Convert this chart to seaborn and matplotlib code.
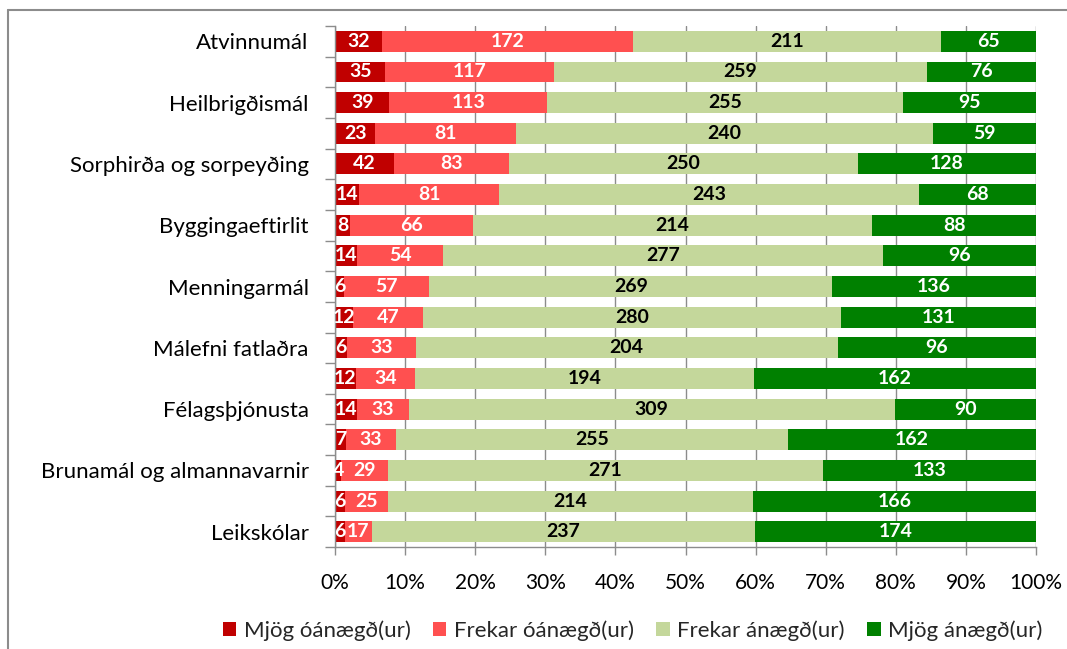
import matplotlib
matplotlib.use("Agg")
import matplotlib.pyplot as plt
import seaborn as sns
import pandas as pd
import numpy as np
from matplotlib.lines import Line2D
from matplotlib.patches import Patch

categories = [
    "Atvinnumál", "Skipulagsmál", "Heilbrigðismál", "Umhverfismál",
    "Sorphirða og sorpeyðing", "Samgöngumál", "Byggingaeftirlit", "Íþróttamál",
    "Menningarmál", "Grunnskólar", "Málefni fatlaðra", "Öldrunarþjónusta",
    "Félagsþjónusta", "Barnavernd", "Brunamál og almannavarnir", "Vatnsveita",
    "Leikskólar",
]
shown_labels = [c if i % 2 == 0 else "" for i, c in enumerate(categories)]

mjog_oanaegd = [32, 35, 39, 23, 42, 14, 8, 14, 6, 12, 6, 12, 14, 7, 4, 6, 6]
frekar_oanaegd = [172, 117, 113, 81, 83, 81, 66, 54, 57, 47, 33, 34, 33, 33, 29, 25, 17]
frekar_anaegd = [211, 259, 255, 240, 250, 243, 214, 277, 269, 280, 204, 194, 309, 255, 271, 214, 237]
mjog_anaegd = [65, 76, 95, 59, 128, 68, 88, 96, 136, 131, 96, 162, 90, 162, 133, 166, 174]

series_names = ["Mjög óánægð(ur)", "Frekar óánægð(ur)", "Frekar ánægð(ur)", "Mjög ánægð(ur)"]
colors = ["#C00000", "#FF5050", "#C4D79B", "#008000"]
text_colors = ["white", "white", "black", "white"]
tick_labels = [f"{v}%" for v in range(0, 101, 10)]

sns.set_theme(style="white")
plt.rcParams["font.family"] = ["Lato", "DejaVu Sans"]

df = pd.DataFrame({
    "cat": categories,
    series_names[0]: mjog_oanaegd,
    series_names[1]: frekar_oanaegd,
    series_names[2]: frekar_anaegd,
    series_names[3]: mjog_anaegd,
})
vals = df[series_names].to_numpy(dtype=float)
totals = vals.sum(axis=1, keepdims=True)
pct = vals / totals * 100
cum = np.cumsum(pct, axis=1)
for j, name in enumerate(series_names):
    df["cum_" + name] = cum[:, j]

fig = plt.figure(figsize=(10.67, 6.49), dpi=100)
ax = fig.add_axes([0.314, 0.157, 0.657, 0.803])

ax.set_axisbelow(True)
ax.xaxis.grid(True, color="#8C8C8C", linewidth=1.0)
ax.yaxis.grid(False)

for j in range(3, -1, -1):
    sns.barplot(data=df, y="cat", x="cum_" + series_names[j], color=colors[j],
                orient="h", width=0.68, saturation=1, ax=ax, order=categories,
                edgecolor="none", linewidth=0)

for i in range(len(categories)):
    left = 0.0
    for j in range(4):
        w = pct[i, j]
        ax.text(left + w / 2, i, str(int(vals[i, j])), ha="center", va="center",
                color=text_colors[j], fontsize=14, fontweight="bold")
        left += w

ax.set_xlim(0, 100)
ax.set_ylim(len(categories) - 0.5, -0.5)
ax.set_xticks(np.arange(0, 101, 10))
ax.set_xticklabels(tick_labels, fontsize=15, color="#000000")
ax.tick_params(axis="x", which="major", length=6, width=1, color="#8C8C8C",
               pad=13, direction="out", bottom=True)

ax.set_yticks(np.arange(len(categories)))
ax.set_yticklabels(shown_labels, fontsize=16, color="#000000")
ax.set_yticks(np.arange(-0.5, len(categories), 1.0), minor=True)
ax.tick_params(axis="y", which="major", length=0, pad=19)
ax.tick_params(axis="y", which="minor", length=7, width=1, color="#8C8C8C",
               direction="out", left=True)
ax.set_xlabel("")
ax.set_ylabel("")

for s in ["top", "right"]:
    ax.spines[s].set_visible(False)
for s in ["left", "bottom"]:
    ax.spines[s].set_visible(True)
    ax.spines[s].set_color("#8C8C8C")
    ax.spines[s].set_linewidth(1.0)

handles = [Patch(facecolor=c, edgecolor="none") for c in colors]
fig.legend(handles, series_names, loc="center", bbox_to_anchor=(0.593, 0.028),
           ncol=4, frameon=False, fontsize=16, handlelength=0.6, handleheight=0.6,
           handletextpad=0.35, columnspacing=1.0)

fig.add_artist(Line2D([8 / 1067, 1.0], [1 - 10 / 649, 1 - 10 / 649],
                      transform=fig.transFigure, color="#8C8C8C", linewidth=1.5))
fig.add_artist(Line2D([8 / 1067, 8 / 1067], [0, 1 - 10 / 649],
                      transform=fig.transFigure, color="#8C8C8C", linewidth=1.5))

fig.savefig("out.png", dpi=100)
